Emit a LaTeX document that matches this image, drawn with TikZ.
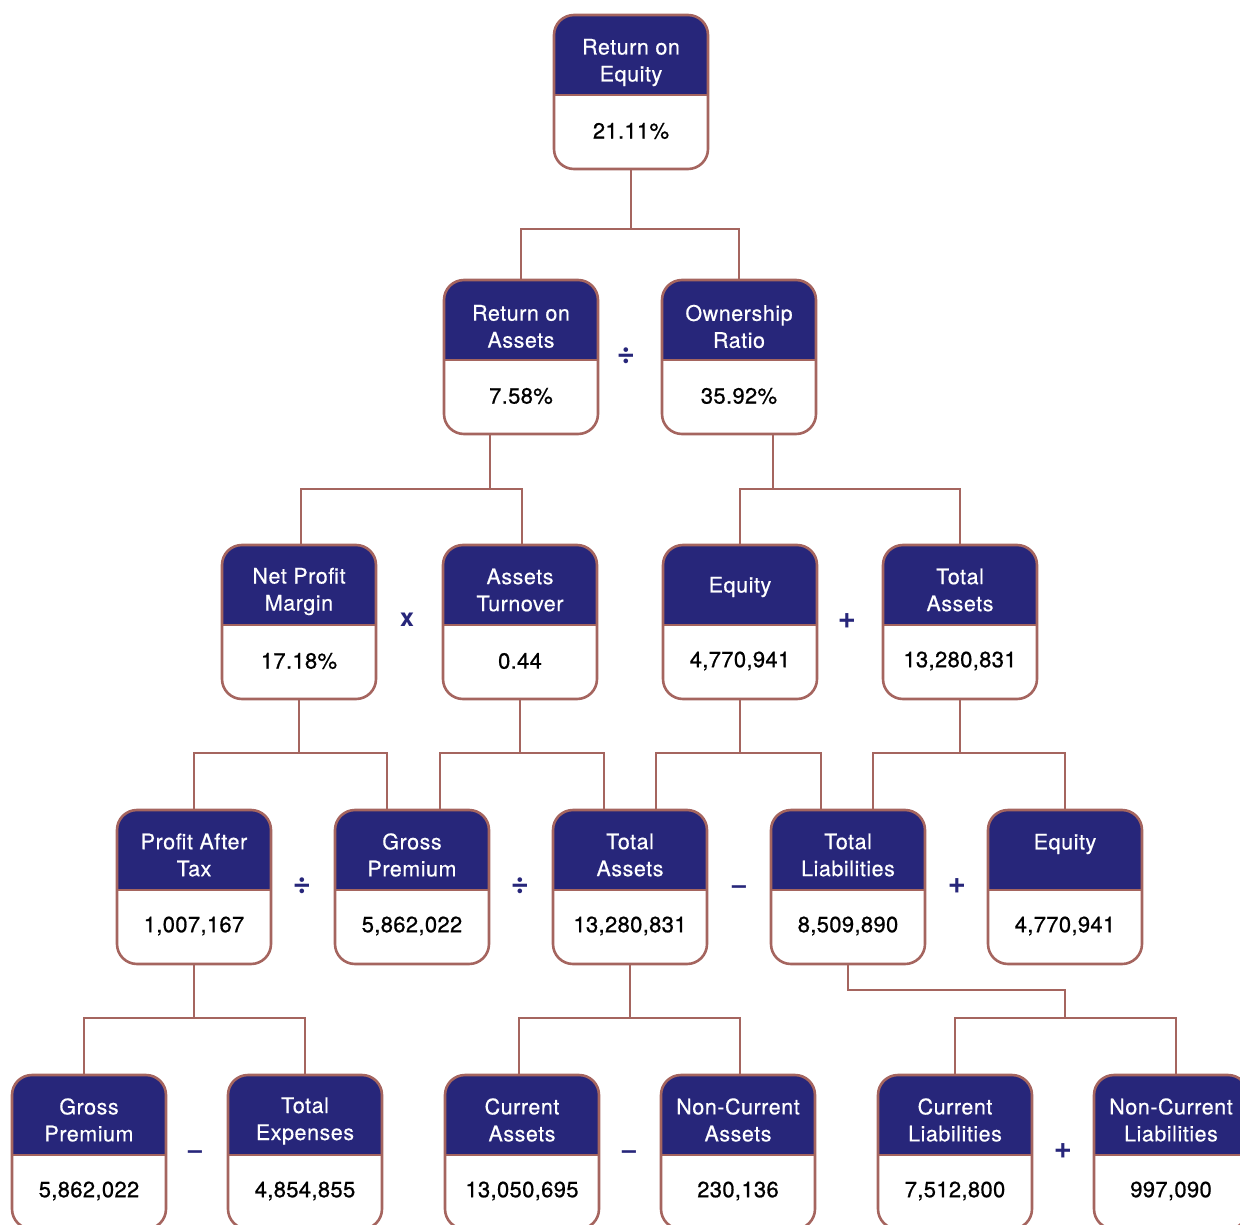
\documentclass[tikz,border=0pt]{standalone}
\usepackage{fontspec}
\setmainfont{TeX Gyre Heros}
\newfontfamily\medfont{TeX Gyre Heros}[FakeBold=0.5, LetterSpace=2.5]
\newfontfamily\numfont{TeX Gyre Heros}[FakeBold=0.8, LetterSpace=1.5]
\definecolor{navy}{RGB}{39,38,122}
\definecolor{rim}{RGB}{165,101,95}
\tikzset{
  card/.style={draw=rim, line width=2.6pt, rounded corners=20pt,
    minimum width=154pt, minimum height=154pt, inner sep=0pt, outer sep=0pt, fill=white,
    path picture={\fill[navy, sharp corners] (path picture bounding box.north west) rectangle ([yshift=-80pt]path picture bounding box.north east);}},
  head/.style={text=white, align=center, font=\medfont\fontsize{21.5}{27}\selectfont},
  val/.style={text=black, font=\numfont\fontsize{22}{26}\selectfont},
  opsym/.style={text=navy, font=\fontsize{25}{28}\selectfont\bfseries},
  opbig/.style={text=navy, font=\fontsize{31}{34}\selectfont\bfseries},
  conn/.style={draw=rim, line width=2.6pt},
}
\newcommand\card[6]{%
  \node[card] (#1) at (#2,{#3+77}) {};
  \draw[rim, line width=2.6pt] ([yshift=-80pt]#1.north west) -- ([yshift=-80pt]#1.north east);
  \node[head] (#1-h) at (#2,{#3+#6}) {#4};
  \node[val] (#1-v) at (#2,{#3+116}) {#5};
}
\begin{document}
\begin{tikzpicture}[x=1pt, y=-1pt]
\useasboundingbox (0,0) rectangle (1240,1225);
% row 1
\card{roe}{631}{15}{Return on\\Equity}{21.11\%}{47.5}
% row 2
\card{roa}{521}{280}{Return on\\Assets}{7.58\%}{46.5}
\card{own}{739}{280}{Ownership\\Ratio}{35.92\%}{46.5}
% row 3
\card{npm}{299}{545}{Net Profit\\Margin}{17.18\%}{46.5}
\card{at}{520}{545}{Assets\\Turnover}{0.44}{45}
\card{eqa}{740}{545}{Equity}{4,770,941}{42}
\card{taa}{960}{545}{Total\\Assets}{13,280,831}{45}
% row 4
\card{pat}{194}{810}{Profit After\\Tax}{1,007,167}{45}
\card{gpa}{412}{810}{Gross\\Premium}{5,862,022}{45}
\card{tab}{630}{810}{Total\\Assets}{13,280,831}{45}
\card{tl}{848}{810}{Total\\Liabilities}{8,509,890}{45}
\card{eqb}{1065}{810}{Equity}{4,770,941}{34}
% row 5
\card{gpb}{89}{1075}{Gross\\Premium}{5,862,022}{45}
\card{te}{305}{1075}{Total\\Expenses}{4,854,855}{46}
\card{ca}{522}{1075}{Current\\Assets}{13,050,695}{45}
\card{nca}{738}{1075}{Non-Current\\Assets}{230,136}{45}
\card{cl}{955}{1075}{Current\\Liabilities}{7,512,800}{45}
\card{ncl}{1171}{1075}{Non-Current\\Liabilities}{997,090}{45}
% operators
\node[opbig] (o1) at (626,356) {÷};
\node[opsym] (o2) at (407,620) {x};
\node[opbig] (o3) at (847,621) {+};
\node[opbig] (o4) at (302,886) {÷};
\node[opbig] (o5) at (520,886) {÷};
\node[opsym] (o6) at (739,890) {–};
\node[opbig] (o7) at (957,886) {+};
\node[opsym] (o8) at (195,1155) {–};
\node[opsym] (o9) at (629,1155) {–};
\node[opbig] (o10) at (1063,1151) {+};
% connectors
\draw[conn] (roe.south) -- ++(0,60) -| (roa.north);
\draw[conn] (roe.south) -- ++(0,60) -| (own.north);
\draw[conn] ([xshift=-31pt]roa.south) -- ++(0,55) -| ([xshift=2pt]npm.north);
\draw[conn] ([xshift=-31pt]roa.south) -- ++(0,55) -| ([xshift=2pt]at.north);
\draw[conn] ([xshift=34pt]own.south) -- ++(0,55) -| (eqa.north);
\draw[conn] ([xshift=34pt]own.south) -- ++(0,55) -| (taa.north);
\draw[conn] (npm.south) -- ++(0,54) -| (pat.north);
\draw[conn] (npm.south) -- ++(0,54) -| ([xshift=-25pt]gpa.north);
\draw[conn] (at.south) -- ++(0,54) -| ([xshift=28pt]gpa.north);
\draw[conn] (at.south) -- ++(0,54) -| ([xshift=-26pt]tab.north);
\draw[conn] (eqa.south) -- ++(0,54) -| ([xshift=26pt]tab.north);
\draw[conn] (eqa.south) -- ++(0,54) -| ([xshift=-27pt]tl.north);
\draw[conn] (taa.south) -- ++(0,54) -| ([xshift=25pt]tl.north);
\draw[conn] (taa.south) -- ++(0,54) -| (eqb.north);
\draw[conn] (pat.south) -- ++(0,54) -| ([xshift=-5pt]gpb.north);
\draw[conn] (pat.south) -- ++(0,54) -| (te.north);
\draw[conn] (tab.south) -- ++(0,54) -| ([xshift=-3pt]ca.north);
\draw[conn] (tab.south) -- ++(0,54) -| ([xshift=2pt]nca.north);
\coordinate (tlj) at (1065,1018);
\draw[conn] (tl.south) -- ++(0,26) -| (tlj);
\draw[conn] (tlj) -| (cl.north);
\draw[conn] (tlj) -| ([xshift=5pt]ncl.north);
\end{tikzpicture}
\end{document}
